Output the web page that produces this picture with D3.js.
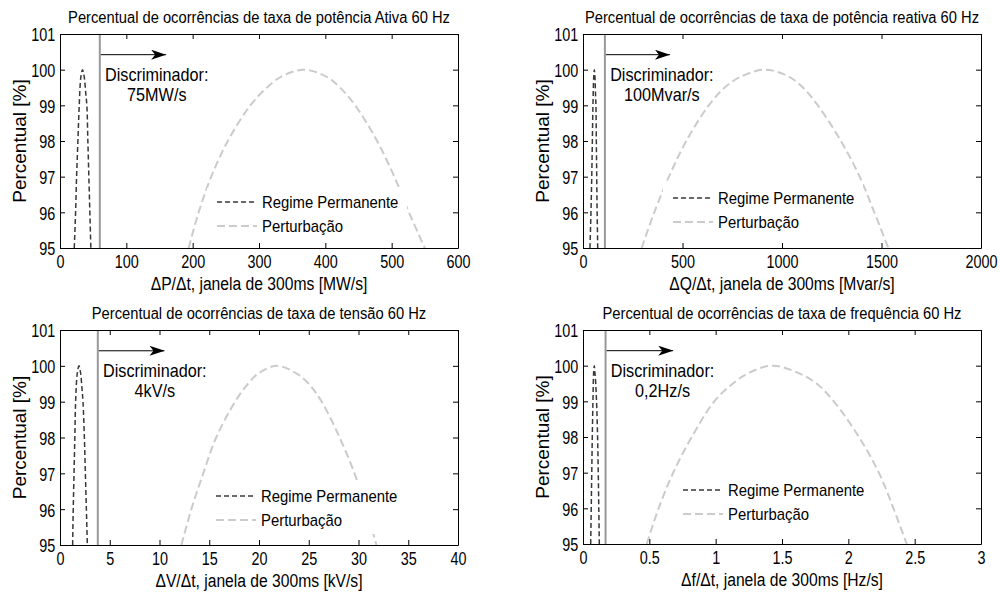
<!DOCTYPE html>
<html>
<head>
<meta charset="utf-8">
<title>Percentual de ocorrências</title>
<script src="https://cdn.jsdelivr.net/npm/d3@7"></script>
<style>
  body { margin: 0; background: #fff; }
  svg { display: block; font-family: Arial, "Liberation Sans", sans-serif; }
  .axis path, .axis line { stroke: #000; stroke-width: 1; }
  .axis text { fill: #000; }
</style>
</head>
<body>
<svg id="chart" width="1000" height="594"></svg>
<script>
// values: [rate, percent]
const regimeP = [[21.5,95],[23.5,96],[25,97],[27,98],[29,99],[31.5,99.8],[34,100],[36.5,99.8],[39,99.3],[40.5,99],[42,98],[43.5,97],[45,96],[46.5,95]];
const perturbP = [[194,95],[209,96],[228,97],[253,98],[287,99],[312,99.5],[333,99.8],[367,100],[402,99.8],[422,99.5],[445,99],[478,98],[504,97],[526,96],[550,95]];
const regimeQ = [[35,95],[40,96],[44,97],[47,98],[50,99],[54,99.8],[57,100],[60,99.8],[63,99.3],[65,99],[67,98],[69,97],[71,96],[74,95]];
const perturbQ = [[295,95],[358,96],[432,97],[519,98],[632,99],[712,99.5],[792,99.8],[915,100],[1036,99.8],[1105,99.5],[1180,99],[1296,98],[1390,97],[1464,96],[1534,95]];
const regimeV = [[1.27,95],[1.33,96],[1.41,97],[1.49,98],[1.57,99],[1.74,99.8],[1.91,100],[2.07,99.8],[2.2,99.4],[2.31,99],[2.45,98],[2.55,97],[2.65,96],[2.75,95]];
const perturbV = [[12.2,95],[13.2,96],[14.4,97],[15.7,98],[17.6,99],[18.9,99.5],[20,99.8],[21.8,100],[23.7,99.8],[25,99.5],[26.3,99],[28.1,98],[29.6,97],[30.8,96],[31.8,95]];
const regimeF = [[0.058,95],[0.062,96],[0.066,97],[0.07,98],[0.075,99],[0.08,99.8],[0.085,100],[0.09,99.8],[0.096,99.5],[0.102,99],[0.11,98],[0.115,97],[0.119,96],[0.123,95]];
const perturbF = [[0.48,95],[0.57,96],[0.68,97],[0.82,98],[0.99,99],[1.13,99.5],[1.25,99.8],[1.43,100],[1.62,99.8],[1.76,99.5],[1.89,99],[2.08,98],[2.23,97],[2.34,96],[2.44,95]];

const titles = [
  "Percentual de ocorrências de taxa de potência Ativa 60 Hz",
  "Percentual de ocorrências de taxa de potência reativa 60 Hz",
  "Percentual de ocorrências de taxa de tensão 60 Hz",
  "Percentual de ocorrências de taxa de frequência 60 Hz"
];
const xLabels = [
  "\u0394P/\u0394t, janela de 300ms [MW/s]",
  "\u0394Q/\u0394t, janela de 300ms [Mvar/s]",
  "\u0394V/\u0394t, janela de 300ms [kV/s]",
  "\u0394f/\u0394t, janela de 300ms [Hz/s]"
];
const discLabels = ["75MW/s", "100Mvar/s", "4kV/s", "0,2Hz/s"];
const discValues = [60, 110, 3.8, 0.17];
const arrowEnds = [160, 437, 10.5, 0.68];
const xMax = [600, 2000, 40, 3];
const xStep = [100, 500, 5, 0.5];
const yTicks = [95, 96, 97, 98, 99, 100, 101];
const arrowY = 100.42;
const legendNames = ["Regime Permanente", "Perturbação"];
const yLabel = "Percentual [%]";

const regimes = [regimeP, regimeQ, regimeV, regimeF];
const perturbs = [perturbP, perturbQ, perturbV, perturbF];

// panel layout
const panels = [
  { left: 60,  right: 458, top: 34,  bottom: 248, legX: 217, legY: 202 },
  { left: 583, right: 981, top: 34,  bottom: 248, legX: 673, legY: 198 },
  { left: 60,  right: 458, top: 330, bottom: 545, legX: 216, legY: 496 },
  { left: 583, right: 981, top: 330, bottom: 544, legX: 683, legY: 490 }
];

const svg = d3.select("#chart");

svg.append("defs").append("marker")
    .attr("id", "head")
    .attr("markerUnits", "userSpaceOnUse")
    .attr("viewBox", "0 0 15 10")
    .attr("refX", 15)
    .attr("refY", 5)
    .attr("markerWidth", 15)
    .attr("markerHeight", 10)
    .attr("orient", "auto")
  .append("path")
    .attr("d", "M0,0 L15,5 L0,10 L4,5 Z")
    .attr("fill", "#000");

// squeezed text, the figure uses a narrow face
function label(g, x, y, str, size, sx, anchor) {
  return g.append("text")
    .attr("transform", "translate(" + x + "," + y + ") scale(" + sx + ",1)")
    .attr("text-anchor", anchor || "middle")
    .style("font-size", size + "px")
    .text(str);
}

panels.forEach((p, i) => {
  const g = svg.append("g");
  const x = d3.scaleLinear().domain([0, xMax[i]]).range([p.left, p.right]);
  const y = d3.scaleLinear().domain([95, 101]).range([p.bottom, p.top]);
  const xTicks = d3.range(0, xMax[i] + xStep[i] / 2, xStep[i]);
  const cx = (p.left + p.right) / 2;

  // curves
  const line = d3.line()
    .x(d => x(d[0]))
    .y(d => y(d[1]))
    .curve(d3.curveCatmullRom.alpha(0.5));

  g.append("path")
    .datum(perturbs[i])
    .attr("d", line)
    .attr("fill", "none")
    .attr("stroke", "#cbcbcb")
    .attr("stroke-width", 2)
    .attr("stroke-dasharray", "8,4");

  g.append("path")
    .datum(regimes[i])
    .attr("d", line)
    .attr("fill", "none")
    .attr("stroke", "#383838")
    .attr("stroke-width", 1.5)
    .attr("stroke-dasharray", "5,3");

  // discriminator
  g.append("line")
    .attr("x1", x(discValues[i])).attr("x2", x(discValues[i]))
    .attr("y1", y(95)).attr("y2", y(101))
    .attr("stroke", "#999")
    .attr("stroke-width", 2);

  g.append("line")
    .attr("x1", x(discValues[i]) + 1).attr("x2", x(arrowEnds[i]))
    .attr("y1", y(arrowY)).attr("y2", y(arrowY))
    .attr("stroke", "#000")
    .attr("stroke-width", 1)
    .attr("marker-end", "url(#head)");

  label(g, x(discValues[i]) + 57, p.top + 47, "Discriminador:", 18, 0.9);
  label(g, x(discValues[i]) + 57, p.top + 67, discLabels[i], 18, 0.9);

  // legend
  const leg = g.append("g");
  leg.append("rect")
    .attr("x", p.legX - 10)
    .attr("y", p.legY - 14)
    .attr("width", 200)
    .attr("height", 52)
    .attr("fill", "#fff");
  [["#383838", 1.5, "5,3"], ["#cbcbcb", 2, "8,4"]].forEach((s, k) => {
    const ly = p.legY + k * 24;
    leg.append("line")
      .attr("x1", p.legX).attr("x2", p.legX + 40)
      .attr("y1", ly).attr("y2", ly)
      .attr("stroke", s[0])
      .attr("stroke-width", s[1])
      .attr("stroke-dasharray", s[2]);
    label(leg, p.legX + 45, ly + 6, legendNames[k], 16, 0.93, "start");
  });

  // axes, ticks pointing inward on all four sides
  const bottomAxis = g.append("g")
    .attr("class", "axis")
    .attr("transform", "translate(0," + p.bottom + ")")
    .call(d3.axisBottom(x).tickValues(xTicks).tickFormat(d => String(d))
      .tickSizeInner(-5).tickSizeOuter(0).tickPadding(7));
  bottomAxis.selectAll("text")
    .style("font-size", "18px")
    .attr("transform", "scale(0.8,1)");

  g.append("g")
    .attr("class", "axis")
    .attr("transform", "translate(0," + p.top + ")")
    .call(d3.axisTop(x).tickValues(xTicks).tickSizeInner(-5).tickSizeOuter(0).tickFormat(""));

  const leftAxis = g.append("g")
    .attr("class", "axis")
    .attr("transform", "translate(" + p.left + ",0)")
    .call(d3.axisLeft(y).tickValues(yTicks).tickFormat(d => String(d))
      .tickSizeInner(-5).tickSizeOuter(0).tickPadding(6));
  leftAxis.selectAll("text")
    .style("font-size", "18px")
    .attr("dy", "0.38em")
    .attr("transform", "scale(0.8,1)");

  g.append("g")
    .attr("class", "axis")
    .attr("transform", "translate(" + p.right + ",0)")
    .call(d3.axisRight(y).tickValues(yTicks).tickSizeInner(-5).tickSizeOuter(0).tickFormat(""));

  // titles
  label(g, cx, p.top - 11, titles[i], 16, 0.92);
  label(g, cx, p.bottom + 42, xLabels[i], 18, 0.87);

  g.append("text")
    .attr("transform", "translate(" + (p.left - 34) + "," + ((p.top + p.bottom) / 2) + ") rotate(-90)")
    .attr("text-anchor", "middle")
    .style("font-size", "19px")
    .text(yLabel);
});
</script>
</body>
</html>
